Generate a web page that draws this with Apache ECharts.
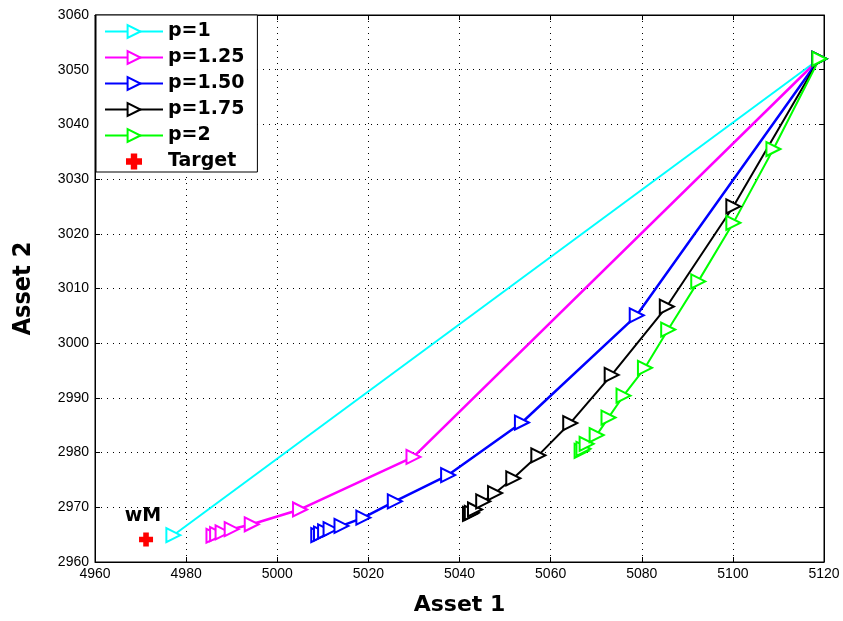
<!DOCTYPE html>
<html>
<head>
<meta charset="utf-8">
<script src="https://cdn.jsdelivr.net/npm/echarts@6/dist/echarts.min.js"></script>
<style>html,body{margin:0;padding:0;background:#fff}#c{width:843px;height:621px}</style>
</head>
<body>
<div id="c"></div>
<script>
// Data
const seriesNames = ['p=1', 'p=1.25', 'p=1.50', 'p=1.75', 'p=2'];
const p1_x = [4977.2, 5119];
const p1_y = [2964.9, 3052];
const p125_x = [4986.0, 4986.8, 4988.0, 4990.0, 4994.4, 5005.0, 5029.9, 5119];
const p125_y = [2964.8, 2965.1, 2965.4, 2966.0, 2966.9, 2969.6, 2979.2, 3052];
const p150_x = [5009.0, 5009.6, 5010.5, 5011.7, 5014.1, 5018.9, 5025.8, 5037.5, 5053.7, 5078.9, 5119];
const p150_y = [2964.9, 2965.2, 2965.6, 2966.0, 2966.6, 2968.1, 2971.1, 2975.9, 2985.5, 3005.1, 3052];
const p175_x = [5042.3, 5042.7, 5043.4, 5045.2, 5047.8, 5051.8, 5057.3, 5064.3, 5073.4, 5085.5, 5100.1, 5119];
const p175_y = [2968.8, 2969.0, 2969.6, 2971.1, 2972.6, 2975.3, 2979.5, 2985.4, 2994.2, 3006.7, 3025.0, 3052];
const p2_x = [5066.8, 5067.2, 5067.9, 5070.1, 5072.7, 5076.0, 5080.7, 5085.8, 5092.4, 5100.1, 5108.9, 5119];
const p2_y = [2980.3, 2980.7, 2981.6, 2983.2, 2986.4, 2990.4, 2995.5, 3002.5, 3011.3, 3022.0, 3035.5, 3052];
const target_x = [4971.2];
const target_y = [2964.1];
const targetLabel = 'wM';
const xTicks = [4960, 4980, 5000, 5020, 5040, 5060, 5080, 5100, 5120];
const yTicks = [2960, 2970, 2980, 2990, 3000, 3010, 3020, 3030, 3040, 3050, 3060];

const colors = ['#00ffff', '#ff00ff', '#0000ff', '#000000', '#00ff00'];
const widths = [2, 2.5, 2.5, 2, 2];
const xs = [p1_x, p125_x, p150_x, p175_x, p2_x];
const ys = [p1_y, p125_y, p150_y, p175_y, p2_y];
const zip = (a, b) => a.map((v, i) => [v, b[i]]);

const chart = echarts.init(document.getElementById('c'), null, {renderer: 'canvas'});
const FONT = 'Liberation Sans, Arial, sans-serif';
const BOLD = 'DejaVu Sans, sans-serif';

const lineSeries = seriesNames.map((n, i) => ({
  name: n,
  type: 'line',
  data: zip(xs[i], ys[i]),
  symbol: 'emptyTriangle',
  symbolSize: 14,
  symbolRotate: -90,
  showAllSymbol: true,
  lineStyle: {color: colors[i], width: widths[i]},
  itemStyle: {color: colors[i], borderColor: colors[i], borderWidth: 2},
  emphasis: {disabled: true},
  animation: false
}));

const plus = 'path://M3,0 L7,0 L7,3 L10,3 L10,7 L7,7 L7,10 L3,10 L3,7 L0,7 L0,3 L3,3 Z';
const fmt = v => String(v);

const option = {
  backgroundColor: '#fff',
  animation: false,
  grid: {left: 95, right: 19, top: 15, bottom: 49, show: true, borderColor: '#000', borderWidth: 1},
  legend: {
    orient: 'vertical', left: 96, top: 15,
    backgroundColor: '#fff', borderColor: '#000', borderWidth: 1,
    padding: [7, 13, 1, 8],
    itemGap: 7, itemWidth: 58, itemHeight: 16,
    textStyle: {fontFamily: BOLD, fontWeight: 'bold', fontSize: 19, color: '#000'},
    data: seriesNames.concat(['Target'])
  },
  xAxis: [{
    type: 'value', min: xTicks[0], max: xTicks[xTicks.length - 1], interval: 20,
    name: 'Asset 1', nameLocation: 'middle', nameGap: 32,
    nameTextStyle: {fontFamily: BOLD, fontWeight: 'bold', fontSize: 22, color: '#000'},
    axisLine: {show: true, onZero: false, lineStyle: {color: '#000', width: 1}},
    axisTick: {show: true, inside: true, length: 5, lineStyle: {color: '#000'}},
    axisLabel: {fontFamily: FONT, fontSize: 14, color: '#000', margin: 5, showMinLabel: true, showMaxLabel: true, formatter: fmt},
    splitLine: {show: true, lineStyle: {color: '#000', type: [1, 5], width: 1}}
  }, {
    type: 'value', min: xTicks[0], max: xTicks[xTicks.length - 1], interval: 20, position: 'top',
    axisLine: {show: true, onZero: false, lineStyle: {color: '#000'}},
    axisTick: {show: true, inside: true, length: 5, lineStyle: {color: '#000'}},
    axisLabel: {show: false}, splitLine: {show: false}
  }],
  yAxis: [{
    type: 'value', min: yTicks[0], max: yTicks[yTicks.length - 1], interval: 10,
    name: 'Asset 2', nameLocation: 'middle', nameGap: 59,
    nameTextStyle: {fontFamily: 'DejaVu Sans Condensed, DejaVu Sans, sans-serif', fontWeight: 'bold', fontSize: 25, color: '#000'},
    axisLine: {show: true, onZero: false, lineStyle: {color: '#000', width: 1}},
    axisTick: {show: true, inside: true, length: 5, lineStyle: {color: '#000'}},
    axisLabel: {fontFamily: FONT, fontSize: 14, color: '#000', margin: 6, showMinLabel: true, showMaxLabel: true, formatter: fmt},
    splitLine: {show: true, lineStyle: {color: '#000', type: [1, 5], width: 1}}
  }, {
    type: 'value', min: yTicks[0], max: yTicks[yTicks.length - 1], interval: 10, position: 'right',
    axisLine: {show: true, onZero: false, lineStyle: {color: '#000'}},
    axisTick: {show: true, inside: true, length: 5, lineStyle: {color: '#000'}},
    axisLabel: {show: false}, splitLine: {show: false}
  }],
  series: lineSeries.concat([{
    name: 'Target',
    type: 'scatter',
    data: zip(target_x, target_y),
    symbol: plus,
    symbolSize: 14,
    itemStyle: {color: '#ff0000', opacity: 1},
    label: {
      show: true, formatter: targetLabel, position: 'top', offset: [-3, -2],
      fontFamily: BOLD, fontWeight: 'bold', fontSize: 19, color: '#000'
    },
    emphasis: {disabled: true}
  }])
};
chart.setOption(option);
</script>
</body>
</html>
